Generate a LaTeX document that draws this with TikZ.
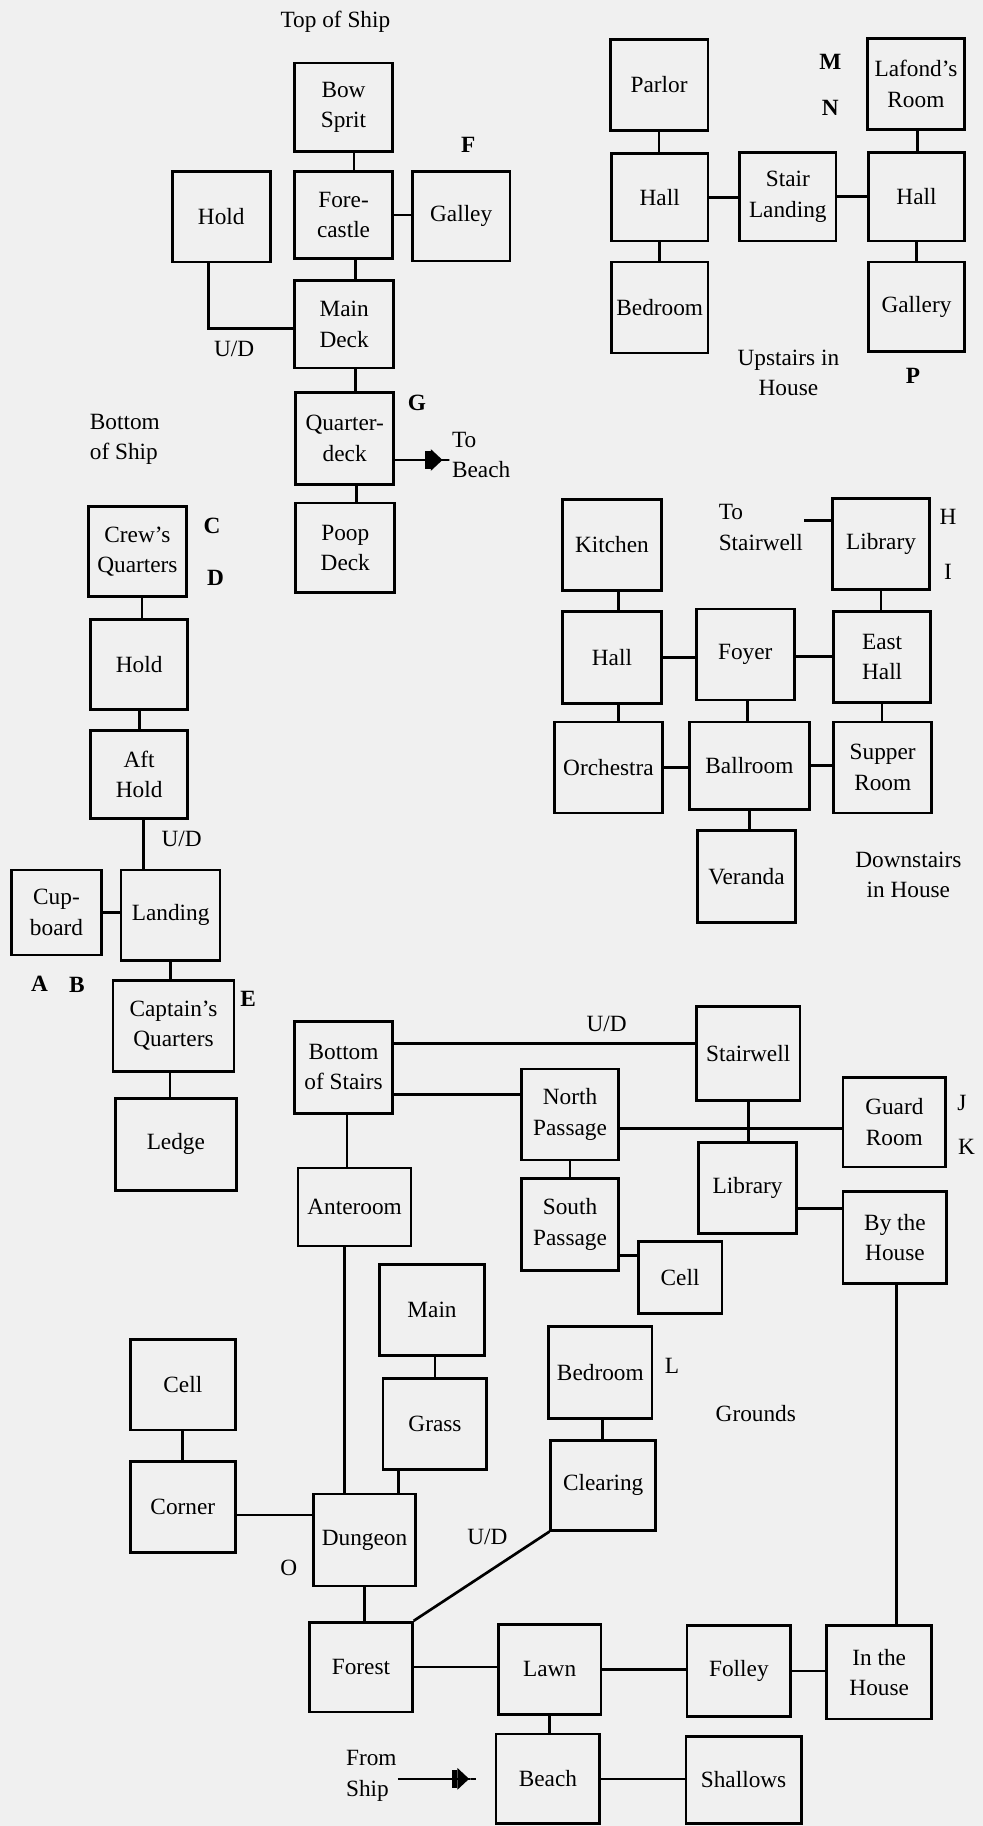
\documentclass[tikz,border=0pt]{standalone}
\usepackage{fontspec}
\setmainfont{Liberation Serif}
\usetikzlibrary{arrows.meta,calc}

\begin{document}
\begin{tikzpicture}[x=1pt, y=-1pt,
    room/.style={draw, line width=2.3pt, align=center, inner sep=1pt,
                 minimum width=84pt, minimum height=78pt,
                 font=\fontsize{20}{26}\selectfont},
    lbl/.style={inner sep=1pt, align=center, font=\fontsize{20}{26}\selectfont},
    letter/.style={inner sep=0pt, font=\fontsize{20}{24}\selectfont\bfseries},
    link/.style={line width=2.3pt},
    plug/.style={line width=2.3pt,
      -{Rectangle[length=5pt,width=16pt,sep=0pt]Triangle[length=10pt,width=18pt,sep=0pt]Rectangle[length=7pt,width=2.3pt,sep=0pt]}}]
    % Hintergrund
    \fill[black!6] (0,0) rectangle (844,1568);
    \useasboundingbox (0,0) rectangle (844,1568);

    % Top of Ship
    \node[lbl] (topship) at (288,19) {Top of Ship};
    \node[room, minimum height=76pt] (bow) at (295,92) {Bow\\Sprit};
    \node[room] (hold) at (190,186) {Hold};
    \node[room, minimum height=75pt] (fore) at (295,184.5) {Fore-\\castle};
    \node[room, minimum height=77pt] (galley) at (396,185.5) {Galley};
    \node[room, minimum width=85pt, minimum height=75pt] (main) at (295.5,278.5) {Main\\Deck};
    \node[room, minimum height=79pt] (quarter) at (296,376.5) {Quarter-\\deck};
    \node[room, minimum width=85pt, minimum height=77pt] (poop) at (296.5,470.5) {Poop\\Deck};
    \node[letter] (labF) at (402,124) {F};
    \node[letter] (labG) at (358,346) {G};
    \node[lbl] (udship) at (201,300) {U/D};
    \node[lbl, align=left, anchor=west] (tobeach) at (387,391) {To\\Beach};

    \draw[link] ([xshift=9pt]bow.south) -- ([xshift=9pt]bow.south |- fore.north);
    \draw[link] (fore.east) -- (fore.east -| galley.west);
    \draw[link] ([xshift=-11pt]hold.south) |- ([yshift=-3.5pt]main.west);
    \draw[link] ([xshift=10pt]fore.south) -- ([xshift=10pt]fore.south |- main.north);
    \draw[link] ([xshift=10pt]main.south) -- ([xshift=10pt]main.south |- quarter.north);
    \draw[link] ([xshift=10pt]quarter.south) -- ([xshift=10pt]quarter.south |- poop.north);
    \draw[plug] ([yshift=-18.5pt]quarter.east) -- ([yshift=-18.5pt]quarter.east -| tobeach.west);

    % Bottom of Ship
    \node[lbl, align=left, anchor=west] (botship) at (76,377) {Bottom\\of Ship};
    \node[room, minimum height=77pt] (crew) at (118,473.5) {Crew's\\Quarters};
    \node[room, minimum width=83pt, minimum height=77pt] (hold2) at (119.5,570.5) {Hold};
    \node[room, minimum width=83pt, minimum height=76pt] (aft) at (119.5,665) {Aft\\Hold};
    \node[room, minimum width=85pt] (landing) at (146.5,786) {Landing};
    \node[room, minimum width=77pt, minimum height=73pt] (cupboard) at (48.5,783.5) {Cup-\\board};
    \node[room, minimum width=104pt] (captain) at (149,881) {Captain's\\Quarters};
    \node[room, minimum width=104pt, minimum height=79pt] (ledge) at (151,982.5) {Ledge};
    \node[letter] (labC) at (182,452) {C};
    \node[letter] (labD) at (185,496) {D};
    \node[letter] (labA) at (34,845) {A};
    \node[letter] (labB) at (66,846) {B};
    \node[letter] (labE) at (213,858) {E};
    \node[lbl] (udhold) at (156,720) {U/D};

    \draw[link] ([xshift=4pt]crew.south) -- ([xshift=4pt]crew.south |- hold2.north);
    \draw[link] (hold2.south) -- (hold2.south |- aft.north);
    \draw[link] ([xshift=3.5pt]aft.south) -- ([xshift=3.5pt]aft.south |- landing.north);
    \draw[link] (cupboard.east) -- (cupboard.east -| landing.west);
    \draw[link] (landing.south) -- (landing.south |- captain.north);
    \draw[link] ([xshift=-3pt]captain.south) -- ([xshift=-3pt]captain.south |- ledge.north);

    % Upstairs in House
    \node[room] (parlor) at (566,73) {Parlor};
    \node[room, minimum width=83pt, minimum height=75pt] (hallL) at (566.5,169.5) {Hall};
    \node[room, minimum width=83pt] (bedU) at (566.5,264) {Bedroom};
    \node[room, minimum width=83pt, minimum height=76pt] (stair) at (676.5,169) {Stair\\Landing};
    \node[room, minimum width=82pt, minimum height=76pt] (hallR) at (787,169) {Hall};
    \node[room, minimum width=83pt] (lafond) at (786.5,72) {Lafond's\\Room};
    \node[room, minimum width=82pt, minimum height=77pt] (gallery) at (787,263.5) {Gallery};
    \node[letter] (labM) at (713,53) {M};
    \node[letter] (labN) at (713,93) {N};
    \node[letter] (labP) at (784,323) {P};
    \node[lbl] (upstairs) at (677,320) {Upstairs in\\House};

    \draw[link] (parlor.south) -- (parlor.south |- hallL.north);
    \draw[link] (hallL.south) -- (hallL.south |- bedU.north);
    \draw[link] (hallL.east) -- (hallL.east -| stair.west);
    \draw[link] (stair.east) -- (stair.east -| hallR.west);
    \draw[link] ([xshift=1.5pt]lafond.south) -- ([xshift=1.5pt]lafond.south |- hallR.north);
    \draw[link] (hallR.south) -- (hallR.south |- gallery.north);

    % Downstairs in House
    \node[room, minimum width=85pt] (kitchen) at (525.5,468) {Kitchen};
    \node[room, minimum width=83pt] (libU) at (756.5,467) {Library};
    \node[room, minimum width=85pt, minimum height=79pt] (hallD) at (525.5,564.5) {Hall};
    \node[room] (foyer) at (640,562) {Foyer};
    \node[room, minimum width=83pt] (east) at (757.5,564) {East\\Hall};
    \node[room, minimum width=93pt] (orch) at (522.5,659) {Orchestra};
    \node[room, minimum width=103pt, minimum height=75pt] (ball) at (643.5,657.5) {Ballroom};
    \node[room] (supper) at (758,659) {Supper\\Room};
    \node[room, minimum height=79pt] (veranda) at (641,752.5) {Veranda};
    \node[lbl, align=left, anchor=west] (tostair) at (616,453) {To\\Stairwell};
    \node[lbl, font=\fontsize{20}{24}\selectfont] (labH) at (814,444) {H};
    \node[lbl, font=\fontsize{20}{24}\selectfont] (labI) at (814,491) {I};
    \node[lbl] (downstairs) at (780,751) {Downstairs\\in House};

    \draw[link] ([yshift=20pt]libU.west) -- ([yshift=20pt]libU.west -| tostair.east);
    \draw[link] ([xshift=5.5pt]kitchen.south) -- ([xshift=5.5pt]kitchen.south |- hallD.north);
    \draw[link] (hallD.east) -- (hallD.east -| foyer.west);
    \draw[link] ([yshift=-2pt]foyer.east) -- ([yshift=-2pt]foyer.east -| east.west);
    \draw[link] (libU.south) -- (libU.south |- east.north);
    \draw[link] (east.south) -- (east.south |- supper.north);
    \draw[link] ([xshift=5.5pt]hallD.south) -- ([xshift=5.5pt]hallD.south |- orch.north);
    \draw[link] ([xshift=2pt]foyer.south) -- ([xshift=2pt]foyer.south |- ball.north);
    \draw[link] (orch.east) -- (orch.east -| ball.west);
    \draw[link] (ball.east) -- (ball.east -| supper.west);
    \draw[link] (ball.south) -- (ball.south |- veranda.north);

    % Grounds
    \node[room, minimum height=79pt] (bos) at (295,916.5) {Bottom\\of Stairs};
    \node[room, minimum width=89pt, minimum height=81pt] (stairwell) at (642.5,904.5) {Stairwell};
    \node[room, minimum width=83pt] (north) at (489.5,957) {North\\Passage};
    \node[room, minimum width=88pt, minimum height=77pt] (guard) at (768,963.5) {Guard\\Room};
    \node[room] (libG) at (642,1020) {Library};
    \node[room, minimum width=89pt, minimum height=79pt] (byhouse) at (768.5,1062.5) {By the\\House};
    \node[room, minimum width=97pt, minimum height=67pt] (ante) at (304.5,1036.5) {Anteroom};
    \node[room, minimum width=83pt, minimum height=79pt] (south) at (489.5,1051.5) {South\\Passage};
    \node[room, minimum width=72pt, minimum height=62pt] (cellG) at (584,1097) {Cell};
    \node[room, minimum width=90pt] (mainG) at (371,1125) {Main};
    \node[room, minimum width=89pt, minimum height=79pt] (bedG) at (515.5,1178.5) {Bedroom};
    \node[room, minimum width=90pt] (cellL) at (157,1189) {Cell};
    \node[room, minimum width=89pt] (grass) at (373.5,1223) {Grass};
    \node[room, minimum width=90pt] (corner) at (157,1294) {Corner};
    \node[room, minimum width=90pt, minimum height=77pt] (clearing) at (518,1275.5) {Clearing};
    \node[room, minimum width=88pt, minimum height=79pt] (dungeon) at (313,1322.5) {Dungeon};
    \node[room, minimum width=88pt, minimum height=77pt] (forest) at (310,1431.5) {Forest};
    \node[room, minimum width=88pt, minimum height=77pt] (lawn) at (472,1433.5) {Lawn};
    \node[room, minimum width=89pt] (folley) at (634.5,1435) {Folley};
    \node[room, minimum width=90pt, minimum height=80pt] (inhouse) at (755,1436) {In the\\House};
    \node[room, minimum width=89pt, minimum height=77pt] (beach) at (470.5,1527.5) {Beach};
    \node[room, minimum width=99pt, minimum height=75pt] (shallows) at (638.5,1528.5) {Shallows};
    \node[lbl] (udstair) at (521,879) {U/D};
    \node[lbl] (udclear) at (418.5,1320) {U/D};
    \node[lbl, font=\fontsize{20}{24}\selectfont] (labJ) at (826,947) {J};
    \node[lbl, font=\fontsize{20}{24}\selectfont] (labK) at (830,985) {K};
    \node[lbl, font=\fontsize{20}{24}\selectfont] (labL) at (577,1173) {L};
    \node[lbl, font=\fontsize{20}{24}\selectfont] (labO) at (248,1346) {O};
    \node[lbl] (grounds) at (649,1214) {Grounds};
    \node[lbl, align=left, anchor=west] (fromship) at (296,1525) {From\\Ship};

    \draw[link] ([yshift=20.5pt]bos.east) -- ([yshift=20.5pt]bos.east -| stairwell.west);
    \draw[link] ([yshift=-23.5pt]bos.east) -- ([yshift=-23.5pt]bos.east -| north.west);
    \draw[link] ([xshift=3pt]bos.south) -- ([xshift=3pt]bos.south |- ante.north);
    \draw[link] ([yshift=-12pt]north.east) -- ([yshift=-12pt]north.east -| guard.west);
    \draw[link] (stairwell.south) -- (stairwell.south |- libG.north);
    \draw[link] ([yshift=-18pt]libG.east) -- ([yshift=-18pt]libG.east -| byhouse.west);
    \draw[link] (north.south) -- (north.south |- south.north);
    \draw[link] ([yshift=-26.5pt]south.east) -- ([yshift=-26.5pt]south.east -| cellG.west);
    \draw[link] ([xshift=-8.5pt]ante.south) -- ([xshift=-8.5pt]ante.south |- dungeon.north);
    \draw[link] ([xshift=2.5pt]mainG.south) -- ([xshift=2.5pt]mainG.south |- grass.north);
    \draw[link] ([xshift=-31.5pt]grass.south) -- ([xshift=-31.5pt]grass.south |- dungeon.north);
    \draw[link] (cellL.south) -- (cellL.south |- corner.north);
    \draw[link] ([yshift=-7pt]corner.east) -- ([yshift=-7pt]corner.east -| dungeon.west);
    \draw[link] ([xshift=2pt]bedG.south) -- ([xshift=2pt]bedG.south |- clearing.north);
    \draw[link] (dungeon.south) -- (dungeon.south |- forest.north);
    \draw[link] (clearing.south west) -- (forest.north east);
    \draw[link] (forest.east) -- (forest.east -| lawn.west);
    \draw[link] (lawn.east) -- (lawn.east -| folley.west);
    \draw[link] (folley.east) -- (folley.east -| inhouse.west);
    \draw[link] ([xshift=1.5pt]byhouse.south) -- ([xshift=1.5pt]byhouse.south |- inhouse.north);
    \draw[link] (lawn.south) -- (lawn.south |- beach.north);
    \draw[link] (beach.east) -- (beach.east -| shallows.west);
    \draw[plug] (fromship.east |- beach.west) -- ([xshift=-15pt]beach.west);
\end{tikzpicture}
\end{document}
